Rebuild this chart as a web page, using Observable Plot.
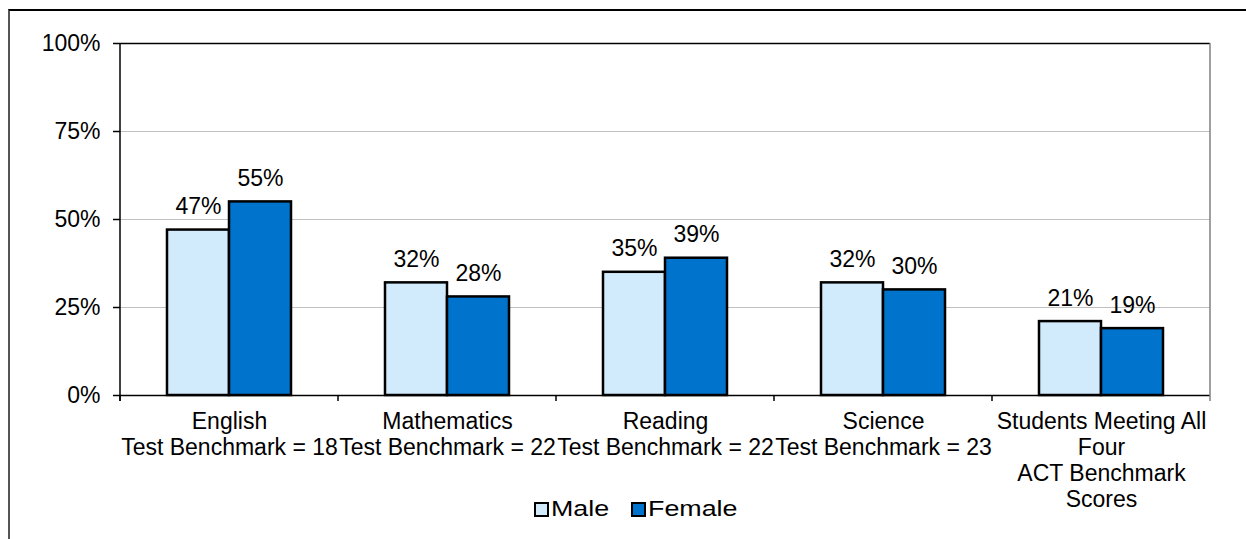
<!DOCTYPE html>
<html><head><meta charset="utf-8">
<script src="https://cdn.jsdelivr.net/npm/d3@7"></script>
<script src="https://cdn.jsdelivr.net/npm/@observablehq/plot@0.6"></script>
<style>
body{margin:0;background:#fff;font-family:"Liberation Sans",Arial,sans-serif;}
#wrap{position:relative;width:1246px;height:539px;overflow:hidden;background:#fff;}
#border{position:absolute;left:8px;top:9px;width:1400px;height:700px;border-top:2px solid #000;border-left:2px solid #555;box-sizing:border-box;}
#chart{position:absolute;left:0;top:0;}
#legend{position:absolute;top:498px;left:534px;display:flex;align-items:center;font-size:22px;line-height:22px;color:#000;white-space:nowrap;}
.item{display:flex;align-items:center;}
.sw{width:15px;height:15px;box-sizing:border-box;border:2px solid #000;margin-right:2px;}
.lb{display:inline-block;transform:scaleX(1.22);transform-origin:left center;}
</style></head>
<body>
<div id="wrap"><div id="border"></div><div id="chart"></div><div id="legend"></div></div>
<script>
const categories = [
  "English\nTest Benchmark = 18",
  "Mathematics\nTest Benchmark = 22",
  "Reading\nTest Benchmark = 22",
  "Science\nTest Benchmark = 23",
  "Students Meeting All\nFour\nACT Benchmark\nScores"
];
const series = ["Male", "Female"];
const male = [47, 32, 35, 32, 21];
const female = [55, 28, 39, 30, 19];
const yTicks = [0, 25, 50, 75, 100];
const colors = ["#D1EBFD", "#0073CC"];

const data = categories.flatMap((c, i) => [
  {category: c, sex: series[0], value: male[i]},
  {category: c, sex: series[1], value: female[i]}
]);

const FS = 23;
const chart = Plot.plot({
  width: 1246, height: 490,
  marginLeft: 120, marginRight: 36, marginTop: 43, marginBottom: 95,
  style: {fontFamily: "Liberation Sans, Arial, sans-serif", fontSize: FS + "px", color: "#000", background: "transparent", overflow: "visible"},
  fx: {domain: categories, padding: 0, label: null},
  x: {domain: series, paddingInner: 0, paddingOuter: 0.75, axis: null},
  y: {domain: [0, 100], ticks: yTicks, label: null},
  color: {domain: series, range: colors},
  marks: [
    Plot.gridY(yTicks.filter(d => d > 0 && d < 100), {stroke: "#c0c0c0", strokeOpacity: 1, strokeWidth: 1}),
    Plot.ruleY([100], {stroke: "#000", strokeWidth: 1.5}),
    Plot.barY(data, {fx: "category", x: "sex", y: "value", fill: "sex", stroke: "#000", strokeWidth: 2.5}),
    Plot.text(data, {fx: "category", x: "sex", y: "value", text: d => d.value + "%", lineAnchor: "bottom", dy: -16, fontSize: FS}),
    Plot.ruleY([0], {stroke: "#000", strokeWidth: 1.5}),
    Plot.axisY({ticks: yTicks, tickFormat: d => d + "%", tickSize: 7, tickPadding: 13, fontSize: FS, strokeWidth: 1.5, label: null}),
    Plot.axisFx({anchor: "bottom", tickSize: 0, tickPadding: 15, lineHeight: 1.13, fontSize: FS, label: null})
  ]
});
document.getElementById("chart").appendChild(chart);

// axis lines and category boundary ticks from the plot's scales
const fx = chart.scale("fx");
const ys = chart.scale("y");
const x0 = fx.range[0], x1 = fx.range[1];
const step = (x1 - x0) / fx.domain.length;
const y0 = ys.apply(0), yTop = ys.apply(100);
const svg = d3.select(chart);
const g = svg.append("g");
g.append("line").attr("x1", x1).attr("x2", x1).attr("y1", yTop).attr("y2", y0).attr("stroke", "#808080").attr("stroke-width", 1.5);
g.append("line").attr("x1", x0).attr("x2", x0).attr("y1", yTop).attr("y2", y0 + 6).attr("stroke", "#000").attr("stroke-width", 1.5);
g.selectAll("line.tk").data(d3.range(fx.domain.length + 1)).join("line")
  .attr("class", "tk")
  .attr("x1", i => x0 + i * step).attr("x2", i => x0 + i * step)
  .attr("y1", y0).attr("y2", y0 + 6)
  .attr("stroke", i => i === fx.domain.length ? "#808080" : "#000").attr("stroke-width", 1.5);

// legend
const legend = d3.select("#legend");
const extra = [10, 16];
const gaps = [22, 0];
series.forEach((s, i) => {
  const it = legend.append("div").attr("class", "item").style("margin-right", gaps[i] + "px");
  it.append("div").attr("class", "sw").style("background", colors[i]);
  it.append("span").attr("class", "lb").style("margin-right", extra[i] + "px").text(s);
});
</script>
</body></html>
